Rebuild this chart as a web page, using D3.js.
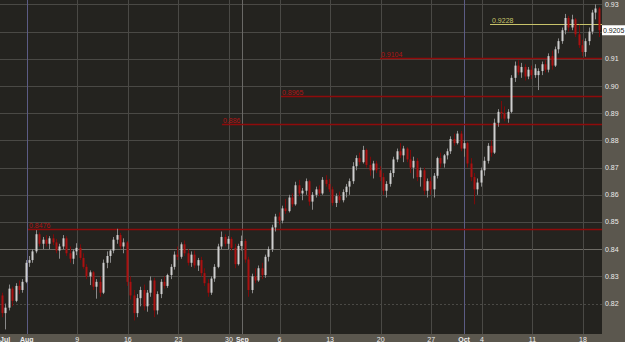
<!DOCTYPE html>
<html>
<head>
<meta charset="utf-8">
<script src="https://cdnjs.cloudflare.com/ajax/libs/d3/7.8.5/d3.min.js"></script>
<style>
  html, body { margin: 0; padding: 0; background: #24231f; overflow: hidden; }
  svg { display: block; }
  text { font-family: "Liberation Sans", Arial, sans-serif; }
</style>
</head>
<body>
<div id="chart"></div>
<script>
// 8-hour candles, prices in pips (x 0.0001)
var opens = [8230,8165,8185,8255,8210,8265,8250,8280,8350,8360,8392,8455,8420,8435,8420,8440,8425,8395,8410,8440,
  8385,8365,8392,8405,8368,8335,8300,8315,8262,8280,8240,8350,8375,8395,8435,8452,8410,8425,8280,8230,
  8165,8220,8250,8190,8240,8285,8175,8235,8280,8265,8305,8335,8380,8372,8418,8385,8350,8380,8340,8360,
  8312,8275,8240,8292,8335,8410,8445,8420,8438,8405,8345,8412,8430,8362,8250,8300,8285,8330,8305,8372,
  8400,8480,8520,8505,8550,8540,8590,8565,8635,8605,8615,8650,8575,8600,8620,8605,8655,8640,8620,8570,
  8595,8580,8610,8630,8650,8705,8735,8720,8765,8710,8690,8715,8690,8665,8615,8640,8680,8730,8760,8745,
  8770,8730,8700,8725,8665,8690,8615,8650,8620,8670,8735,8715,8745,8760,8805,8790,8825,8770,8790,8715,
  8665,8620,8645,8690,8725,8780,8755,8865,8905,8900,8880,8905,9030,9075,9050,9070,9035,9060,9040,9040,
  9055,9080,9060,9110,9075,9135,9165,9205,9250,9215,9245,9190,9150,9125,9165,9200,9270,9285];
var highs = [8240,8200,8270,8262,8275,8285,8290,8360,8375,8400,8470,8462,8445,8452,8448,8455,8438,8420,8452,8448,
  8410,8400,8422,8418,8385,8345,8322,8320,8290,8300,8362,8392,8400,8445,8475,8460,8440,8430,8300,8250,
  8235,8262,8270,8250,8300,8295,8245,8290,8300,8310,8345,8392,8410,8425,8432,8400,8392,8395,8368,8372,
  8330,8290,8300,8345,8420,8465,8455,8448,8445,8420,8420,8450,8438,8372,8310,8330,8340,8350,8380,8410,
  8490,8530,8535,8560,8585,8600,8605,8648,8655,8625,8660,8655,8610,8630,8635,8665,8672,8658,8630,8605,
  8612,8620,8640,8660,8720,8745,8755,8780,8770,8740,8725,8725,8705,8680,8650,8690,8740,8770,8790,8780,
  8775,8765,8740,8735,8700,8700,8660,8665,8680,8740,8755,8750,8770,8815,8825,8835,8835,8800,8795,8735,
  8680,8660,8700,8740,8790,8800,8880,8915,8945,8925,8915,9040,9090,9095,9085,9080,9070,9075,9080,9065,
  9090,9095,9120,9130,9145,9175,9215,9265,9258,9262,9250,9225,9170,9175,9215,9280,9300,9290];
var lows = [8150,8105,8175,8190,8205,8235,8240,8275,8335,8350,8385,8410,8400,8410,8400,8415,8385,8365,8400,8375,
  8350,8345,8378,8360,8328,8290,8268,8250,8218,8225,8235,8330,8350,8385,8420,8400,8385,8265,8215,8138,
  8150,8190,8175,8170,8225,8150,8160,8220,8255,8258,8290,8325,8360,8365,8375,8340,8335,8330,8320,8300,
  8265,8225,8232,8280,8330,8400,8410,8400,8395,8330,8340,8395,8350,8225,8238,8275,8280,8290,8295,8355,
  8390,8465,8490,8495,8530,8535,8555,8560,8595,8580,8600,8560,8545,8590,8595,8600,8630,8610,8560,8555,
  8570,8572,8590,8600,8640,8690,8710,8715,8700,8670,8660,8680,8650,8600,8590,8630,8665,8720,8735,8720,
  8720,8680,8660,8650,8630,8600,8590,8600,8590,8660,8700,8700,8730,8750,8780,8785,8760,8740,8700,8650,
  8565,8600,8630,8670,8715,8740,8750,8850,8880,8870,8865,8900,9015,9040,9030,9020,9025,9025,9030,8985,
  9040,9050,9050,9060,9070,9120,9155,9190,9200,9205,9180,9140,9110,9108,9150,9190,9245,9180];
var closes = [8165,8185,8255,8210,8265,8250,8280,8350,8360,8392,8455,8420,8435,8420,8440,8425,8395,8410,8440,8385,
  8365,8392,8405,8368,8335,8300,8315,8262,8280,8240,8350,8375,8395,8435,8452,8410,8425,8280,8230,8165,
  8220,8250,8190,8240,8285,8175,8235,8280,8265,8305,8335,8380,8372,8418,8385,8350,8380,8340,8360,8312,
  8275,8240,8292,8335,8410,8445,8420,8438,8405,8345,8412,8430,8362,8250,8300,8285,8330,8305,8372,8400,
  8480,8520,8505,8550,8540,8590,8565,8635,8605,8615,8650,8575,8600,8620,8605,8655,8640,8620,8570,8595,
  8580,8610,8630,8650,8705,8735,8720,8765,8710,8690,8715,8690,8665,8615,8640,8680,8730,8760,8745,8770,
  8730,8700,8725,8665,8690,8615,8650,8620,8670,8735,8715,8745,8760,8805,8790,8825,8770,8790,8715,8665,
  8620,8645,8690,8725,8780,8755,8865,8905,8900,8880,8905,9030,9075,9050,9070,9035,9060,9040,9065,9055,
  9080,9060,9110,9075,9135,9165,9205,9250,9215,9245,9190,9150,9125,9165,9200,9270,9285,9205];

var priceTicks = [0.82, 0.83, 0.84, 0.85, 0.86, 0.87, 0.88, 0.89, 0.90, 0.91, 0.92, 0.93];
var dateLabels = ["Jul", "Aug", "9", "16", "23", "30", "Sep", "6", "13", "20", "27", "Oct", "4", "11", "18"];
var dateDays   = [-2.35, 0, 5, 10, 15, 20, 21.32, 25, 30, 35, 40, 43.24, 45, 50, 55]; // trading days from Mon Aug 2
var levelValues = [0.8476, 0.886, 0.8965, 0.9104];
var levelLabels = ["0.8476", "0.886", "0.8965", "0.9104"];
var levelFrom   = [0.13, 19.31, 25.14, 34.93];
var markValue = 0.9228, markLabel = "0.9228", markFrom = 45.81;
var lastPrice = 0.9205, lastLabel = "0.9205";

var W = 625, H = 342, plotW = 602, plotH = 334;
var firstDay = -2.6, barsPerDay = 3;

var x = d3.scaleLinear().domain([-2.64, 56.88]).range([0, plotW]);
var y = d3.scaleLinear().domain([0.80882, 0.93162]).range([plotH, 0]);

var svg = d3.select("#chart").append("svg").attr("width", W).attr("height", H);

svg.append("rect").attr("width", W).attr("height", H).attr("fill", "#24231f");
// axis panels
svg.append("rect").attr("x", plotW).attr("y", 0).attr("width", W - plotW).attr("height", H).attr("fill", "#5b574e");
svg.append("rect").attr("x", 0).attr("y", plotH).attr("width", W).attr("height", H - plotH).attr("fill", "#5b574e");

var plot = svg.append("g");
svg.append("clipPath").attr("id", "clip").append("rect").attr("width", plotW).attr("height", plotH);
plot.attr("clip-path", "url(#clip)");

// horizontal grid
plot.selectAll("line.hg").data(priceTicks).enter().append("line")
  .attr("x1", 0).attr("x2", plotW)
  .attr("y1", function(d){ return Math.round(y(d)) + 0.5; })
  .attr("y2", function(d){ return Math.round(y(d)) + 0.5; })
  .attr("stroke", function(d){ return d === 0.84 ? "#6e6c66" : "#4a4945"; })
  .attr("stroke-dasharray", function(d){ return d === 0.82 ? "2,2" : null; })
  .attr("stroke-width", 1);

// vertical grid
plot.selectAll("line.vg").data(dateDays.slice(1)).enter().append("line")
  .attr("x1", function(d){ return Math.round(x(d)) + 0.5; })
  .attr("x2", function(d){ return Math.round(x(d)) + 0.5; })
  .attr("y1", 0).attr("y2", plotH)
  .attr("stroke", function(d, i){
    var l = dateLabels[i + 1];
    if (l === "Aug" || l === "Oct") return "#5c5c84";
    if (l === "Sep") return "#6a6966";
    return "#4a4945";
  })
  .attr("stroke-width", 1);

// level lines
levelValues.forEach(function(v, i){
  var yy = Math.round(y(v)) + 0.5;
  plot.append("line").attr("x1", x(levelFrom[i])).attr("x2", plotW)
    .attr("y1", yy).attr("y2", yy).attr("stroke", "#8e0b0b").attr("stroke-width", 1.5);
  plot.append("text").attr("x", x(levelFrom[i]) + 1).attr("y", yy - 2)
    .attr("font-size", 7).attr("fill", "#b01414").text(levelLabels[i]);
});
var my = Math.round(y(markValue)) + 0.5;
plot.append("line").attr("x1", x(markFrom)).attr("x2", plotW)
  .attr("y1", my).attr("y2", my).attr("stroke", "#c8c36a").attr("stroke-width", 1);
plot.append("text").attr("x", x(markFrom) + 2).attr("y", my - 2)
  .attr("font-size", 7).attr("fill", "#c8c36a").text(markLabel);

// candles
var bars = d3.range(closes.length).map(function(k){
  return { t: firstDay + (k + 0.5) / barsPerDay,
           o: opens[k] / 1e4, h: highs[k] / 1e4, l: lows[k] / 1e4, c: closes[k] / 1e4 };
});
var g = plot.selectAll("g.bar").data(bars).enter().append("g");
g.append("line")
  .attr("x1", function(d){ return Math.round(x(d.t)) + 0.5; })
  .attr("x2", function(d){ return Math.round(x(d.t)) + 0.5; })
  .attr("y1", function(d){ return y(d.h); })
  .attr("y2", function(d){ return y(d.l); })
  .attr("stroke", function(d){ return d.c >= d.o ? "#8a8a8a" : "#7a0a0a"; })
  .attr("stroke-width", 1);
g.append("rect")
  .attr("x", function(d){ return Math.round(x(d.t)) - 0.5; })
  .attr("width", 2)
  .attr("y", function(d){ return y(Math.max(d.o, d.c)); })
  .attr("height", function(d){ return Math.max(1, Math.abs(y(d.o) - y(d.c))); })
  .attr("fill", function(d){ return d.c >= d.o ? "#cfcfcf" : "#aa1111"; });

// right axis labels (0.92 sits under the last price box)
svg.selectAll("text.yl").data(priceTicks.filter(function(d){ return Math.abs(y(d) - y(lastPrice)) > 8; }))
  .enter().append("text")
  .attr("x", plotW + 3).attr("y", function(d){ return y(d) + 2.5; })
  .attr("font-size", 7).attr("fill", "#ececec")
  .text(function(d){ return d.toFixed(2); });

// last price box
var ly = y(lastPrice);
svg.append("rect").attr("x", plotW).attr("y", ly - 5).attr("width", W - plotW).attr("height", 10).attr("fill", "#ffffff");
svg.append("text").attr("x", plotW + 1).attr("y", ly + 2.5).attr("font-size", 7).attr("fill", "#1a1a1a").text(lastLabel);

// bottom date labels
svg.selectAll("text.xl").data(dateDays).enter().append("text")
  .attr("x", function(d, i){ return i === 0 ? 0 : x(d); })
  .attr("y", plotH + 7.5)
  .attr("text-anchor", function(d, i){ return i === 0 ? "start" : "middle"; })
  .attr("font-size", 7)
  .attr("font-weight", function(d, i){ return isNaN(+dateLabels[i]) ? "bold" : "normal"; })
  .attr("fill", "#ececec")
  .text(function(d, i){ return dateLabels[i]; });
</script>
</body>
</html>
